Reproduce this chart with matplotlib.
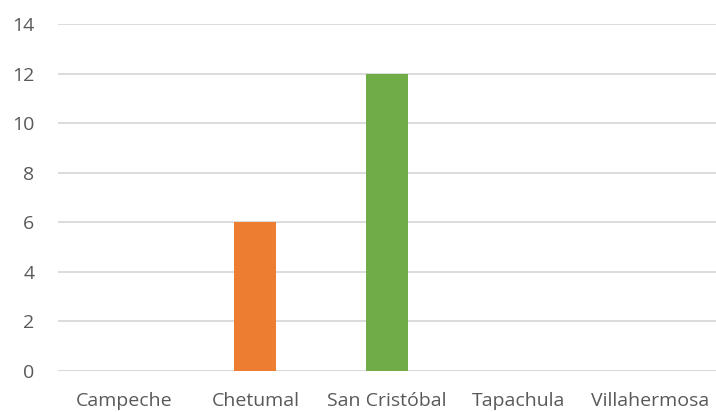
import matplotlib
matplotlib.use("Agg")
import matplotlib.pyplot as plt

categories = ["Campeche", "Chetumal", "San Cristóbal", "Tapachula", "Villahermosa"]
values = [0, 6, 12, 0, 0]
colors = ["#4472C4", "#ED7D31", "#70AD47", "#FFC000", "#5B9BD5"]
yticks = [0, 2, 4, 6, 8, 10, 12, 14]

plt.rcParams['font.family'] = ['Open Sans', 'DejaVu Sans']

fig = plt.figure(figsize=(7.16, 4.12), dpi=100)
W, H = 716, 412
left, right = 58, 716
bottom, top = 371, 24
ax = fig.add_axes([left / W, 1 - bottom / H, (right - left) / W, (bottom - top) / H])

x = list(range(len(categories)))
ax.bar(x, values, width=0.32, color=colors, zorder=3)
ax.set_xlim(-0.5, len(categories) - 0.5)
ax.set_ylim(0, 14)
ax.set_yticks(yticks)
ax.set_xticks(x)
ax.set_xticklabels(categories)
ax.yaxis.grid(True, color="#D9D9D9", linewidth=1.3, zorder=0)
ax.set_axisbelow(True)
for s in ax.spines.values():
    s.set_visible(False)
ax.tick_params(axis="both", length=0, colors="#595959", labelsize=14)
ax.tick_params(axis="y", pad=17)
ax.tick_params(axis="x", pad=15)
ax.axhline(0, color="#D9D9D9", linewidth=1.3, zorder=1)

fig.savefig("out.png", dpi=100)
